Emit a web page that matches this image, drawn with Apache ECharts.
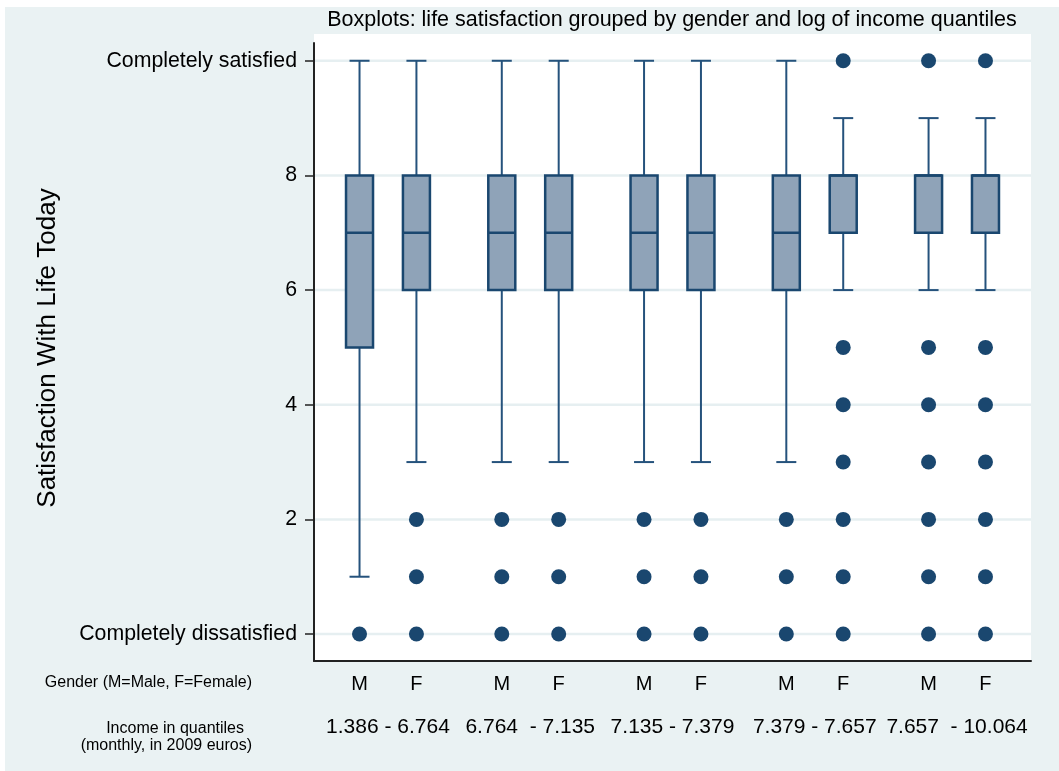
<!DOCTYPE html>
<html><head><meta charset="utf-8">
<script src="https://cdn.jsdelivr.net/npm/echarts@6/dist/echarts.min.js"></script>
<style>html,body{margin:0;padding:0;background:#fff;}#c{width:1059px;height:771px;}</style>
</head><body><div id="c"></div>
<script>
// ---- data ----
const genderLabels = ['M','F','M','F','M','F','M','F','M','F'];
const xPos = [0,2,5,7,10,12,15,17,20,22];
const incomeLabels = ['1.386 - 6.764','6.764  - 7.135','7.135 - 7.379','7.379 - 7.657','7.657  - 10.064'];
const boxMin    = [1,3,3,3,3,3,3,6,6,6];
const boxQ1     = [5,6,6,6,6,6,6,7,7,7];
const boxMedian = [7,7,7,7,7,7,7,8,8,8];
const boxQ3     = [8,8,8,8,8,8,8,8,8,8];
const boxMax    = [10,10,10,10,10,10,10,9,9,9];
const outliers  = [[0],[2,1,0],[2,1,0],[2,1,0],[2,1,0],[2,1,0],[2,1,0],
                   [10,5,4,3,2,1,0],[10,5,4,3,2,1,0],[10,5,4,3,2,1,0]];
const yTicks = [0,2,4,6,8,10];
const yTickText = {0:'Completely dissatisfied', 10:'Completely satisfied'};
const titleText = 'Boxplots: life satisfaction grouped by gender and log of income quantiles';
const yTitle = 'Satisfaction With Life Today';
const genderRowTitle = 'Gender (M=Male, F=Female)';
const incomeRowTitle = ['Income in quantiles','(monthly, in 2009 euros)'];

// ---- build ----
const FONT = '"Liberation Sans", Arial, Helvetica, sans-serif';
const NAVY = '#1A476F';
const X_MIN = -1.6, X_MAX = 23.6;
const boxData = xPos.map((x,i)=>[x, boxMin[i], boxQ1[i], boxMedian[i], boxQ3[i], boxMax[i]]);
const outData = [];
outliers.forEach((arr,i)=>arr.forEach(v=>outData.push([xPos[i], v])));
const genderData = xPos.map((x,i)=>[x, genderLabels[i]]);
const incomeData = incomeLabels.map((t,g)=>[(xPos[2*g]+xPos[2*g+1])/2, t]);
const gridData = yTicks.map(v=>[X_MIN, v]);

const chart = echarts.init(document.getElementById('c'), null, {renderer:'canvas'});
chart.setOption({
  backgroundColor:'#ffffff',
  animation:false,
  title:{text:titleText, left:667, top:4, textAlign:'center',
    textStyle:{fontFamily:FONT, fontSize:21.5, fontWeight:'normal', color:'#000'}},
  graphic:[
    {type:'rect', z:-100, shape:{x:5,y:7,width:1054,height:764}, style:{fill:'#EAF2F3'}},
    {type:'rect', z:-90, shape:{x:314,y:34,width:717,height:627}, style:{fill:'#ffffff'}},
    {type:'text', x:48, y:348, rotation:Math.PI/2,
      style:{text:yTitle, textAlign:'center', textVerticalAlign:'middle', font:'26px '+FONT, fill:'#000'}},
    {type:'text', x:252, y:683,
      style:{text:genderRowTitle, textAlign:'right', textVerticalAlign:'middle', font:'16px '+FONT, fill:'#000'}},
    {type:'text', x:244, y:729,
      style:{text:incomeRowTitle[0], textAlign:'right', textVerticalAlign:'middle', font:'16px '+FONT, fill:'#000'}},
    {type:'text', x:252, y:746,
      style:{text:incomeRowTitle[1], textAlign:'right', textVerticalAlign:'middle', font:'16px '+FONT, fill:'#000'}}
  ],
  grid:{left:314, right:28, top:43, bottom:110, containLabel:false},
  xAxis:{type:'value', min:X_MIN, max:X_MAX,
    axisLine:{show:true, onZero:false, lineStyle:{color:'#222', width:2}},
    axisTick:{show:false}, axisLabel:{show:false}, splitLine:{show:false}},
  yAxis:{type:'value', min:-0.47, max:10.31,
    axisLine:{show:true, onZero:false, lineStyle:{color:'#222', width:2}},
    axisTick:{show:true, customValues:yTicks, length:9, lineStyle:{color:'#222', width:1.5}},
    axisLabel:{show:true, customValues:yTicks, margin:17, fontFamily:FONT, fontSize:21.3, color:'#000',
      formatter:(v)=> (yTickText[v] !== undefined ? yTickText[v] : String(v))},
    splitLine:{show:false}},
  series:[
    { // horizontal grid lines at the y ticks
      type:'custom', z:1, silent:true, data:gridData, encode:{x:0, y:1},
      renderItem:(params, api)=>{
        const a = api.coord([X_MIN, api.value(1)]);
        const b = api.coord([X_MAX, api.value(1)]);
        return {type:'line', shape:{x1:a[0]+1, y1:a[1], x2:b[0], y2:b[1]},
          style:{stroke:'#E6EFF1', lineWidth:2.5}};
      }
    },
    {
      type:'custom', z:3, data:boxData, encode:{x:0, y:[1,2,3,4,5]},
      renderItem:(params, api)=>{
        const x = api.value(0);
        const pMin = api.coord([x, api.value(1)]);
        const pQ1 = api.coord([x, api.value(2)]);
        const pMed = api.coord([x, api.value(3)]);
        const pQ3 = api.coord([x, api.value(4)]);
        const pMax = api.coord([x, api.value(5)]);
        const hw = 13.5, cw = 10;
        const ws = {stroke:'#25527C', lineWidth:2};
        const cx = pMin[0];
        return {type:'group', children:[
          {type:'line', shape:{x1:cx,y1:pMin[1],x2:cx,y2:pQ1[1]}, style:ws},
          {type:'line', shape:{x1:cx,y1:pQ3[1],x2:cx,y2:pMax[1]}, style:ws},
          {type:'line', shape:{x1:cx-cw,y1:pMin[1],x2:cx+cw,y2:pMin[1]}, style:ws},
          {type:'line', shape:{x1:cx-cw,y1:pMax[1],x2:cx+cw,y2:pMax[1]}, style:ws},
          {type:'rect', shape:{x:cx-hw, y:pQ3[1], width:2*hw, height:pQ1[1]-pQ3[1]},
            style:{fill:'#8FA3B8', stroke:NAVY, lineWidth:2.5}},
          {type:'line', shape:{x1:cx-hw,y1:pMed[1],x2:cx+hw,y2:pMed[1]}, style:{stroke:NAVY, lineWidth:2.5}}
        ]};
      }
    },
    {
      type:'scatter', z:4, data:outData, symbol:'circle', symbolSize:15,
      itemStyle:{color:NAVY, opacity:1}
    },
    { // M / F labels under boxes
      type:'custom', z:5, silent:true, clip:false, data:genderData, encode:{x:0},
      renderItem:(params, api)=>{
        const p = api.coord([api.value(0), 0]);
        return {type:'text', x:p[0], y:684,
          style:{text:genderLabels[params.dataIndex], textAlign:'center', textVerticalAlign:'middle',
            font:'20px '+FONT, fill:'#000'}};
      }
    },
    { // income range labels
      type:'custom', z:5, silent:true, clip:false, data:incomeData, encode:{x:0},
      renderItem:(params, api)=>{
        const p = api.coord([api.value(0), 0]);
        return {type:'text', x:p[0], y:727,
          style:{text:incomeLabels[params.dataIndex], textAlign:'center', textVerticalAlign:'middle',
            font:'21px '+FONT, fill:'#000'}};
      }
    }
  ]
});
</script></body></html>
